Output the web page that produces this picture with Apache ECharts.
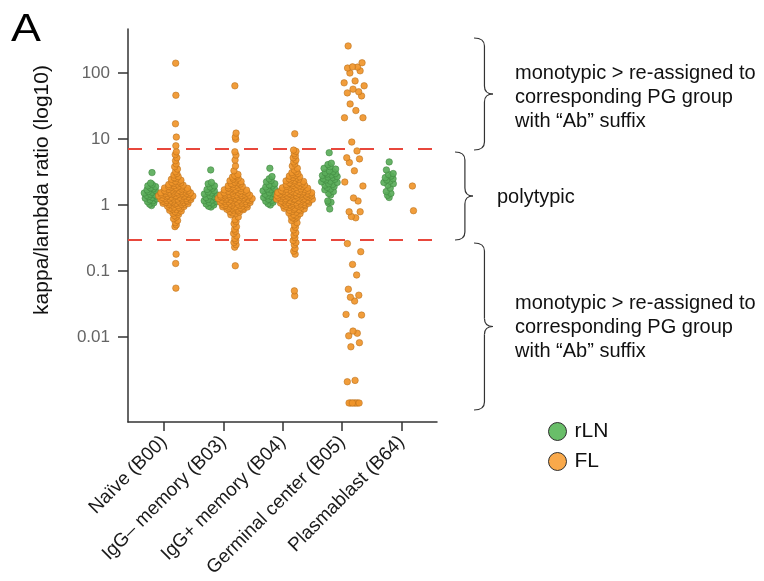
<!DOCTYPE html>
<html>
<head>
<meta charset="utf-8">
<title>kappa/lambda ratio per B-cell population</title>
<script src="https://cdn.jsdelivr.net/npm/echarts@6/dist/echarts.min.js"></script>
<style>
  html, body { margin: 0; padding: 0; background: #fff; }
  #main { width: 764px; height: 581px; }
</style>
</head>
<body>
<div id="main"></div>
<script>
// x axis: cell populations
var categories = ['Naïve (B00)', 'IgG\u2013 memory (B03)', 'IgG+ memory (B04)', 'Germinal center (B05)', 'Plasmablast (B64)'];

// y axis ticks (kappa/lambda ratio, log10 scale)
var yTickValues = [0.01, 0.1, 1, 10, 100];
var yTickLabels = ['0.01', '0.1', '1', '10', '100'];

// polytypic window limits (red dashed lines)
var cutoffs = [7, 0.3];

// kappa/lambda ratios
var naiveRLN = [3.1, 2.15, 2.05, 1.95, 1.9, 1.82, 1.76, 1.7, 1.66, 1.6, 1.56, 1.52, 1.49, 1.46, 1.43, 1.4, 1.37, 1.34,
  1.3, 1.27, 1.24, 1.2, 1.16, 1.12, 1.08, 1.03, 0.98];
var naiveFL = [141, 46, 17, 10.7, 7.9, 6.4, 5.8, 5.2, 4.7, 4.2, 3.8, 3.5, 3.2, 3.0, 2.85,
  2.7, 2.6, 2.52, 2.45, 2.38, 2.3, 2.26, 2.2, 2.16, 2.12, 2.08, 2.04, 2.0, 1.97, 1.94, 1.91,
  1.88, 1.86, 1.83, 1.81, 1.79, 1.77, 1.75, 1.73, 1.71, 1.69, 1.67, 1.66, 1.64, 1.63, 1.61, 1.6, 1.58, 1.57,
  1.56, 1.54, 1.53, 1.52, 1.51, 1.5, 1.49, 1.48, 1.47, 1.46, 1.45, 1.44, 1.43, 1.42, 1.41, 1.4, 1.39, 1.38,
  1.37, 1.36, 1.35, 1.34, 1.33, 1.32, 1.31, 1.3, 1.29, 1.28, 1.27, 1.26, 1.25, 1.24, 1.23, 1.22, 1.21, 1.2,
  1.19, 1.18, 1.17, 1.16, 1.15, 1.14, 1.13, 1.12, 1.11, 1.1, 1.09, 1.08, 1.07, 1.06, 1.05, 1.04, 1.03, 1.02,
  1.01, 1.0, 0.98, 0.96, 0.95, 0.93, 0.92, 0.9, 0.88, 0.87, 0.85, 0.83, 0.81, 0.79, 0.77, 0.75,
  0.72, 0.69, 0.66, 0.62, 0.58, 0.54, 0.5, 0.47, 0.18, 0.13, 0.055];
var igmRLN = [3.4, 2.2, 2.1, 1.95, 1.88, 1.8, 1.72, 1.65, 1.58, 1.52, 1.47, 1.42, 1.38, 1.34, 1.3, 1.26, 1.22,
  1.19, 1.16, 1.13, 1.1, 1.07, 1.04, 1.0, 0.96, 0.93];
var igmFL = [64, 12.3, 10.7, 9.9, 6.4, 5.7, 4.8, 3.9, 3.3,
  2.9, 2.8, 2.72, 2.65, 2.55, 2.48, 2.4, 2.33, 2.27, 2.22, 2.17, 2.12, 2.08, 2.04, 2.0, 1.96, 1.92, 1.88, 1.85,
  1.82, 1.79, 1.76, 1.73, 1.7, 1.68, 1.66, 1.64, 1.62, 1.6, 1.58, 1.56, 1.54, 1.52, 1.5, 1.48, 1.47, 1.46, 1.44,
  1.43, 1.42, 1.41, 1.4, 1.39, 1.38, 1.37, 1.36, 1.35, 1.34, 1.33, 1.32, 1.31, 1.3, 1.29, 1.28, 1.27, 1.26,
  1.25, 1.24, 1.23, 1.22, 1.21, 1.2, 1.19, 1.18, 1.17, 1.16, 1.15, 1.14, 1.13, 1.12, 1.11, 1.1, 1.09, 1.08,
  1.07, 1.06, 1.05, 1.04, 1.03, 1.02, 1.01, 1.0, 0.99, 0.98, 0.97, 0.96, 0.95, 0.94, 0.93, 0.92, 0.91, 0.9,
  0.89, 0.88, 0.87, 0.86, 0.85, 0.84, 0.82, 0.8, 0.78, 0.76, 0.74,
  0.71, 0.66, 0.6, 0.56, 0.52, 0.47, 0.43, 0.4, 0.37, 0.34, 0.31, 0.29, 0.27, 0.25, 0.23, 0.12];
var igpRLN = [3.6, 2.7, 2.5, 2.35, 2.25, 2.1, 2.02, 1.95, 1.88, 1.8, 1.75, 1.7, 1.64, 1.58, 1.54, 1.5, 1.46,
  1.42, 1.38, 1.34, 1.3, 1.26, 1.22, 1.18, 1.14, 1.1, 1.05, 1.0];
var igpFL = [12, 6.8, 6.5, 6.0, 5.6, 5.2, 4.8, 4.5, 4.2, 3.9, 3.6, 3.4,
  3.2, 3.1, 3.0, 2.9, 2.82, 2.75, 2.68, 2.62, 2.56, 2.5, 2.45, 2.4, 2.36, 2.32, 2.28, 2.24, 2.2, 2.17, 2.14,
  2.1, 2.07, 2.04, 2.01, 1.98, 1.95, 1.92, 1.9, 1.87, 1.85, 1.82, 1.8, 1.78, 1.76, 1.74, 1.72, 1.7, 1.68,
  1.66, 1.64, 1.62, 1.61, 1.6, 1.59, 1.57, 1.56, 1.55, 1.54, 1.53, 1.52, 1.51, 1.5, 1.49, 1.48, 1.47, 1.46,
  1.45, 1.44, 1.43, 1.42, 1.41, 1.4, 1.39, 1.38, 1.37, 1.36, 1.35, 1.34, 1.33, 1.32, 1.31, 1.3, 1.29, 1.28,
  1.27, 1.26, 1.25, 1.24, 1.23, 1.22, 1.21, 1.2, 1.19, 1.18, 1.17, 1.16, 1.15, 1.14, 1.13, 1.12, 1.11, 1.1,
  1.09, 1.08, 1.07, 1.06, 1.05, 1.04, 1.03, 1.02, 1.01, 1.0, 0.99, 0.98, 0.97, 0.96, 0.95, 0.93, 0.92, 0.9,
  0.89, 0.87, 0.86, 0.85, 0.83, 0.82, 0.8, 0.78, 0.76, 0.74, 0.72, 0.7, 0.68, 0.66, 0.64, 0.62,
  0.58, 0.54, 0.5, 0.46, 0.42, 0.38, 0.35, 0.32, 0.29, 0.27, 0.25, 0.22, 0.2, 0.18, 0.05, 0.042];
var gcRLN = [6.2, 4.3, 4.1, 3.8, 3.6, 3.5, 3.3, 3.2, 3.1, 3.0, 2.95, 2.85, 2.8, 2.7, 2.65, 2.6, 2.5, 2.45, 2.4,
  2.3, 2.25, 2.2, 2.1, 2.05, 2.0, 1.9, 1.85, 1.75, 1.7, 1.6, 1.5, 1.42, 1.15, 1.1, 1.07, 0.87];
var gcFL = [257, 143, 124, 123, 119, 108, 100, 76, 71, 64, 57, 52, 50, 45, 34, 27, 21, 21, 9.0, 6.6, 5.2, 5.0,
  4.4, 3.3, 2.23, 1.94, 1.28, 1.15, 0.79, 0.79, 0.67, 0.64, 0.26, 0.196, 0.126, 0.087, 0.053, 0.043, 0.04,
  0.035, 0.022, 0.0215, 0.0123, 0.0114, 0.0104, 0.0082, 0.0071, 0.0022, 0.0021,
  0.001, 0.001, 0.001, 0.001, 0.001, 0.001, 0.001];
var pbRLN = [4.5, 3.4, 3.0, 2.9, 2.75, 2.6, 2.5, 2.4, 2.3, 2.2, 2.1, 2.0, 1.8, 1.6, 1.5, 1.4, 1.3];
var pbFL = [1.94, 0.82];

var rlnGroups = [naiveRLN, igmRLN, igpRLN, gcRLN, pbRLN];
var flGroups = [naiveFL, igmFL, igpFL, gcFL, pbFL];

// quasirandom spread (van der Corput offsets scaled by density), like ggbeeswarm
function vdc(n) {
  var q = 0, bk = 0.5;
  while (n > 0) { q += (n % 2) * bk; n = Math.floor(n / 2); bk /= 2; }
  return q;
}

function bandwidth(l) {
  var n = l.length;
  if (n < 2) return 0.1;
  var mean = l.reduce(function (a, b) { return a + b; }, 0) / n;
  var sd = Math.sqrt(l.reduce(function (a, b) { return a + (b - mean) * (b - mean); }, 0) / (n - 1));
  var s = l.slice().sort(function (a, b) { return a - b; });
  var q = function (p) {
    var h = (n - 1) * p, lo = Math.floor(h);
    var hi = Math.min(lo + 1, n - 1);
    return s[lo] + (h - lo) * (s[hi] - s[lo]);
  };
  var iqr = (q(0.75) - q(0.25)) / 1.34;
  var lo = Math.min(sd, iqr) || sd || 0.1;
  return 0.9 * lo * Math.pow(n, -0.2);
}

function swarm(values, center, halfWidth) {
  var logs = values.map(function (v) { return Math.log10(v); });
  var bw = bandwidth(logs);
  var dens = logs.map(function (a) {
    return logs.reduce(function (s, b) { return s + Math.exp(-0.5 * Math.pow((a - b) / bw, 2)); }, 0);
  });
  var dmax = Math.max.apply(null, dens);
  var order = logs.map(function (v, i) { return i; }).sort(function (i, j) { return logs[i] - logs[j]; });
  return order.map(function (idx, rank) {
    var off = (2 * vdc(rank + 1) - 1) * dens[idx] / dmax * halfWidth;
    return [center + off, logs[idx], values[idx]];
  });
}

var nMax = Math.max.apply(null, rlnGroups.concat(flGroups).map(function (g) { return g.length; }));
var maxHalf = 0.32;
function buildPoints(groups, shift) {
  var out = [];
  groups.forEach(function (g, i) {
    out = out.concat(swarm(g, i + shift, maxHalf * Math.sqrt(g.length / nMax)));
  });
  return out;
}

var yTickLogs = yTickValues.map(function (v) { return Math.log10(v); });
var font = '"Liberation Sans", Arial, sans-serif';

// curly brace "}" built from lines and quadratic curves
function brace(x, y1, y2, w) {
  var sx = x + w * 0.55, tx = x + w, ym = (y1 + y2) / 2, r = 8;
  var st = { fill: 'none', stroke: '#333', lineWidth: 1.2 };
  return {
    type: 'group',
    children: [
      { type: 'bezierCurve', shape: { x1: x, y1: y1, cpx1: sx, cpy1: y1, x2: sx, y2: y1 + r }, style: st },
      { type: 'line', shape: { x1: sx, y1: y1 + r, x2: sx, y2: ym - r }, style: st },
      { type: 'bezierCurve', shape: { x1: sx, y1: ym - r, cpx1: sx, cpy1: ym, x2: tx, y2: ym }, style: st },
      { type: 'bezierCurve', shape: { x1: tx, y1: ym, cpx1: sx, cpy1: ym, x2: sx, y2: ym + r }, style: st },
      { type: 'line', shape: { x1: sx, y1: ym + r, x2: sx, y2: y2 - r }, style: st },
      { type: 'bezierCurve', shape: { x1: sx, y1: y2 - r, cpx1: sx, cpy1: y2, x2: x, y2: y2 }, style: st }
    ]
  };
}

var noteText = 'monotypic > re-assigned to\ncorresponding PG group\nwith \u201CAb\u201D suffix';

var myChart = echarts.init(document.getElementById('main'));
var option = {
  animation: false,
  backgroundColor: '#fff',
  grid: { left: 128, top: 29, right: 327, bottom: 159 },
  xAxis: {
    type: 'value',
    min: -0.606,
    max: 4.596,
    splitLine: { show: false },
    axisLine: { onZero: false, lineStyle: { color: '#333', width: 1.5 } },
    axisTick: { customValues: [0, 1, 2, 3, 4], length: 9, lineStyle: { color: '#333', width: 1.5 } },
    axisLabel: {
      customValues: [0, 1, 2, 3, 4],
      formatter: function (v) { return categories[Math.round(v)]; },
      rotate: 45,
      margin: 17,
      fontSize: 19,
      fontFamily: font,
      color: '#1a1a1a'
    }
  },
  yAxis: {
    type: 'value',
    min: -3.288,
    max: 2.667,
    splitLine: { show: false },
    axisLine: { show: true, onZero: false, lineStyle: { color: '#333', width: 1.5 } },
    axisTick: { show: true, customValues: yTickLogs, length: 10, lineStyle: { color: '#333', width: 1.5 } },
    axisLabel: {
      customValues: yTickLogs,
      formatter: function (v) {
        for (var i = 0; i < yTickLogs.length; i++) {
          if (Math.abs(yTickLogs[i] - v) < 1e-6) return yTickLabels[i];
        }
        return '';
      },
      margin: 18,
      fontSize: 17,
      fontFamily: font,
      color: '#646464'
    }
  },
  legend: {
    orient: 'vertical',
    left: 543,
    top: 416,
    itemWidth: 18,
    itemHeight: 18,
    itemGap: 9,
    icon: 'circle',
    textStyle: { fontSize: 21, fontFamily: font, color: '#111', padding: [0, 0, 0, 3] },
    data: [
      { name: 'rLN', itemStyle: { color: '#5cb85c', borderColor: '#222', borderWidth: 1 } },
      { name: 'FL', itemStyle: { color: '#f8a23c', borderColor: '#222', borderWidth: 1 } }
    ]
  },
  series: [
    {
      name: 'rLN',
      type: 'scatter',
      symbolSize: 6.5,
      itemStyle: { color: '#5aac5a', borderColor: '#3e853e', borderWidth: 0.6, opacity: 0.92 },
      data: buildPoints(rlnGroups, -0.21)
    },
    {
      name: 'FL',
      type: 'scatter',
      symbolSize: 6.5,
      itemStyle: { color: '#f0952a', borderColor: '#b8701c', borderWidth: 0.6, opacity: 0.92 },
      data: buildPoints(flGroups, 0.2),
      markLine: {
        silent: true,
        symbol: 'none',
        label: { show: false },
        lineStyle: { color: '#e8473c', type: [14, 15], width: 1.8 },
        data: cutoffs.map(function (c) { return { yAxis: Math.log10(c) }; })
      }
    }
  ],
  graphic: [
    { type: 'text', x: 11, y: 11, scaleX: 1.15, style: { text: 'A', font: '39px ' + font, fill: '#000', verticalAlign: 'top' } },
    {
      type: 'text', x: 42, y: 190, rotation: Math.PI / 2,
      style: { text: 'kappa/lambda ratio (log10)', font: '21px ' + font, fill: '#111', align: 'center', verticalAlign: 'middle' }
    },
    brace(474, 38, 150, 19),
    brace(455, 152, 240, 18),
    brace(474, 243, 410, 19),
    {
      type: 'text', x: 515, y: 97,
      style: { text: noteText, font: '20px ' + font, fill: '#111', verticalAlign: 'middle', lineHeight: 24 }
    },
    {
      type: 'text', x: 497, y: 197,
      style: { text: 'polytypic', font: '20px ' + font, fill: '#111', verticalAlign: 'middle' }
    },
    {
      type: 'text', x: 515, y: 327,
      style: { text: noteText, font: '20px ' + font, fill: '#111', verticalAlign: 'middle', lineHeight: 24 }
    }
  ]
};
myChart.setOption(option);
</script>
</body>
</html>
